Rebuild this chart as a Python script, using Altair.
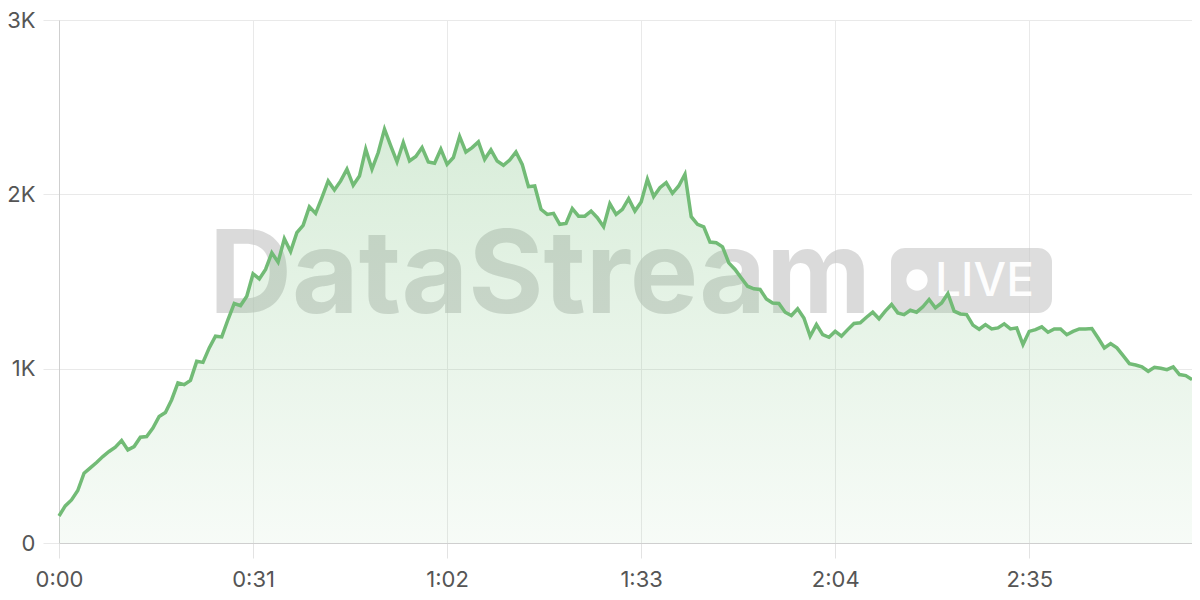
import altair as alt
import pandas as pd

# viewers per second (0:00 .. 3:01)
viewers = [
    155, 213, 247, 301, 400, 431, 462, 496, 525, 550,
    588, 534, 553, 607, 611, 659, 726, 749, 822, 918,
    908, 933, 1042, 1036, 1119, 1186, 1182, 1282, 1374, 1362,
    1416, 1544, 1515, 1569, 1665, 1611, 1745, 1672, 1780, 1822,
    1929, 1891, 1981, 2077, 2025, 2077, 2144, 2052, 2105, 2259,
    2144, 2240, 2374, 2278, 2186, 2297, 2191, 2217, 2268, 2186,
    2178, 2259, 2172, 2211, 2332, 2243, 2268, 2301, 2201, 2255,
    2191, 2167, 2197, 2243, 2172, 2044, 2048, 1914, 1885, 1891,
    1828, 1833, 1918, 1875, 1875, 1904, 1866, 1814, 1946, 1885,
    1914, 1975, 1904, 1956, 2086, 1987, 2038, 2067, 2006, 2048,
    2115, 1872, 1828, 1814, 1726, 1722, 1699, 1607, 1569, 1520,
    1473, 1458, 1454, 1400, 1377, 1374, 1324, 1305, 1343, 1291,
    1186, 1253, 1195, 1180, 1214, 1186, 1224, 1259, 1263, 1295,
    1324, 1286, 1330, 1368, 1320, 1310, 1335, 1324, 1355, 1397,
    1349, 1377, 1431, 1330, 1314, 1310, 1250, 1226, 1253, 1228,
    1234, 1257, 1228, 1234, 1138, 1214, 1224, 1240, 1209, 1228,
    1228, 1195, 1214, 1228, 1228, 1230, 1176, 1119, 1144, 1119,
    1075, 1029, 1021, 1010, 985, 1008, 1002, 994, 1010, 966,
    960, 937,
]
seconds = list(range(len(viewers)))

x_ticks = [0, 31, 62, 93, 124, 155]
y_ticks = [0, 1000, 2000, 3000]

watermark_text = ["DataStream"]
badge_text = ["LIVE"]

df = pd.DataFrame({"t": seconds, "v": viewers})

FONT = "Inter"
LINE = "#72bb76"

x_enc = alt.X(
    "t:Q",
    scale=alt.Scale(domain=[0, 181], nice=False, zero=True),
    axis=alt.Axis(
        values=x_ticks,
        labelExpr="floor(datum.value/60) + ':' + (datum.value % 60 < 10 ? '0' : '') + (datum.value % 60)",
        title=None,
        grid=True,
        gridColor="#e9e9e9",
        tickColor="#e3e3e3",
        tickSize=15,
        domainColor="#cfcfcf",
        labelFont=FONT,
        labelFontSize=22,
        labelColor="#555555",
        labelPadding=11,
        labelFlush=False,
    ),
)
y_enc = alt.Y(
    "v:Q",
    scale=alt.Scale(domain=[0, 3000], nice=False),
    axis=alt.Axis(
        values=y_ticks,
        labelExpr="datum.value == 0 ? '0' : (datum.value / 1000) + 'K'",
        title=None,
        grid=True,
        gridColor="#e9e9e9",
        tickColor="#e9e9e9",
        tickSize=16,
        domainColor="#cfcfcf",
        labelFont=FONT,
        labelFontSize=22,
        labelColor="#555555",
        labelPadding=8,
        labelFlush=False,
    ),
)

wm_df = pd.DataFrame({"label": watermark_text})
badge_df = pd.DataFrame({"label": badge_text})

watermark = alt.Chart(wm_df).mark_text(
    font=FONT, fontWeight="bold", fontSize=115, color="#c3c3c3", opacity=0.6,
    align="left", baseline="alphabetic",
).encode(x=alt.value(150), y=alt.value(293), text="label:N")

badge = alt.Chart(badge_df).mark_rect(
    cornerRadius=14, color="#c6c6c6", opacity=0.6,
).encode(x=alt.value(832), x2=alt.value(993), y=alt.value(228), y2=alt.value(293))

dot = alt.Chart(badge_df).mark_circle(
    color="white", opacity=0.95, size=452,
).encode(x=alt.value(858), y=alt.value(260))

badge_label = alt.Chart(badge_df).mark_text(
    font=FONT, fontSize=46, fontWeight=500, color="white", opacity=0.95,
    align="left", baseline="alphabetic",
).encode(x=alt.value(876), y=alt.value(276), text="label:N")

gradient = alt.Gradient(
    gradient="linear",
    stops=[
        alt.GradientStop(color="rgba(116,190,120,0.28)", offset=0),
        alt.GradientStop(color="rgba(116,190,120,0.06)", offset=1),
    ],
    x1=1, x2=1, y1=0, y2=1,
)

area = alt.Chart(df).mark_area(color=gradient).encode(x=x_enc, y=y_enc)
line = alt.Chart(df).mark_line(color=LINE, strokeWidth=3.5).encode(x=x_enc, y=y_enc)

chart = alt.layer(watermark, badge, dot, badge_label, area, line).properties(
    width=1133,
    height=523,
    autosize=alt.AutoSizeParams(type="none"),
    padding={"left": 51, "top": 12, "right": 0, "bottom": 50},
).configure_view(stroke=None).configure(background="white")

chart.save("out.html", embed_options={"renderer": "svg", "actions": False})
